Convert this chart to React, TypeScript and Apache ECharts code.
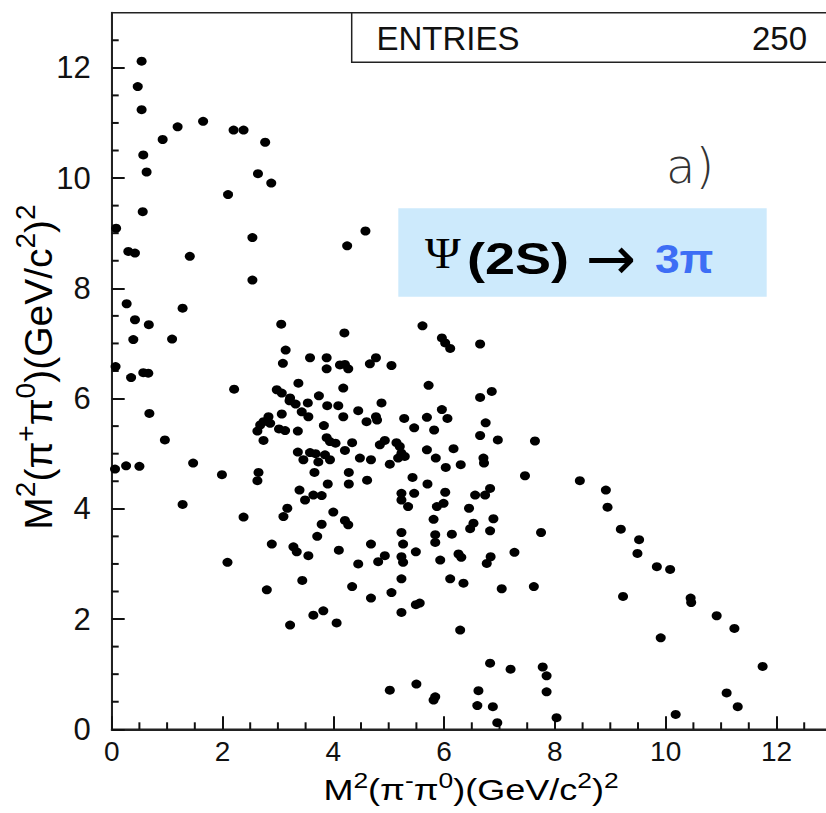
import React, { useEffect, useRef } from "react";
import * as echarts from "echarts";

// M^2(pi- pi0) , M^2(pi+ pi0) pairs in (GeV/c^2)^2
const upperBand: [number, number][] = [
  [0.54, 12.12], [0.47, 11.66], [0.54, 11.24], [1.19, 10.93], [1.65, 11.03], [0.92, 10.7],
  [2.2, 10.87], [2.38, 10.87], [2.77, 10.65], [0.57, 10.42], [0.63, 10.11], [2.64, 10.08],
  [2.88, 9.91], [2.1, 9.7], [0.56, 9.39], [0.08, 9.09], [2.54, 8.92], [0.3, 8.67],
  [0.42, 8.64], [1.41, 8.58], [2.54, 8.15], [0.27, 7.72], [0.42, 7.43], [0.67, 7.34],
  [0.39, 7.07], [1.28, 7.64], [1.09, 7.08], [0.07, 6.58], [0.35, 6.38], [0.57, 6.47],
  [0.66, 6.46], [2.21, 6.17], [4.25, 8.77], [4.58, 9.04], [0.68, 5.73], [0.96, 5.25],
  [0.06, 4.72], [0.26, 4.78], [0.5, 4.77], [1.47, 4.83], [1.99, 4.62], [1.28, 4.08],
  [2.38, 3.85], [2.09, 3.03],
];

const centralCluster: [number, number][] = [
  [3.06, 7.35], [3.14, 6.88], [3.09, 6.64], [3.58, 6.74], [3.88, 6.74], [3.88, 6.54],
  [4.12, 6.61], [4.21, 6.62], [4.27, 6.54], [4.2, 7.19], [4.66, 6.63], [4.77, 6.74],
  [5.05, 6.6], [5.61, 7.32], [3.37, 6.28], [3.74, 6.05], [2.98, 6.16], [3.07, 6.1],
  [3.22, 6.01], [4.18, 6.19], [5.96, 7.1], [6.02, 7.01], [6.11, 6.91], [6.65, 6.99],
  [5.72, 6.24], [6.65, 6.02], [6.86, 6.13], [2.65, 4.66], [2.63, 4.51], [2.83, 5.67],
  [2.86, 5.55], [2.74, 5.58], [2.68, 5.52], [3.07, 5.72], [2.63, 5.41], [2.74, 5.24],
  [3.02, 5.45], [3.13, 5.42], [3.36, 5.41], [3.83, 5.51], [3.88, 5.29], [3.21, 5.96],
  [3.32, 5.9], [3.54, 5.92], [3.43, 5.76], [3.55, 5.67], [3.89, 5.87], [4.09, 5.87],
  [4.18, 5.67], [4.45, 5.78], [4.6, 5.58], [4.77, 5.67], [4.87, 5.92], [4.79, 5.61],
  [3.36, 5.03], [3.46, 4.89], [3.58, 5.02], [3.68, 5.0], [3.73, 4.85], [3.85, 4.98],
  [3.66, 4.66], [3.9, 4.45], [3.39, 4.34], [3.49, 4.16], [3.64, 4.25], [3.79, 4.24],
  [3.94, 5.22], [4.04, 5.19], [4.34, 5.2], [4.21, 5.06], [4.84, 5.16], [4.93, 5.24],
  [5.14, 5.2], [5.2, 5.13], [5.23, 5.01], [5.29, 4.95], [5.17, 4.92], [5.69, 5.07],
  [6.17, 5.09], [3.94, 4.89], [4.48, 4.92], [4.68, 4.89], [5.02, 4.81], [5.85, 4.92],
  [6.03, 4.75], [6.3, 4.8], [6.71, 4.92], [6.72, 4.83], [4.28, 4.66], [4.28, 4.45],
  [4.61, 4.52], [5.43, 4.57], [5.7, 4.45], [7.46, 4.6], [5.46, 4.28], [5.23, 4.28],
  [5.23, 4.16], [6.02, 4.3], [6.56, 4.25], [6.74, 4.25], [6.83, 4.37], [5.28, 5.64],
  [5.46, 5.47], [5.69, 5.66], [5.96, 5.8], [6.06, 5.64], [5.82, 5.43], [6.75, 5.56],
  [6.65, 5.33], [6.97, 5.25], [7.64, 5.23],
];

const lowerCluster: [number, number][] = [
  [2.89, 3.36], [2.8, 2.53], [3.22, 1.89], [3.64, 2.07], [3.82, 2.15], [4.06, 1.93],
  [3.44, 2.7], [3.28, 3.31], [3.34, 3.22], [3.55, 3.15], [3.1, 3.86], [3.17, 4.01],
  [3.71, 3.5], [3.79, 3.72], [4.0, 3.94], [4.21, 3.79], [4.27, 3.71], [4.1, 3.25],
  [4.34, 2.59], [4.45, 3.0], [4.68, 2.38], [4.68, 3.36], [4.81, 3.04], [4.93, 3.15],
  [5.05, 2.48], [5.23, 2.12], [5.23, 2.73], [5.23, 3.57], [5.26, 3.36], [5.23, 3.13],
  [5.26, 3.03], [5.49, 2.26], [5.56, 2.29], [5.49, 3.22], [5.02, 0.71], [5.5, 0.82],
  [5.35, 4.04], [5.87, 4.04], [5.99, 4.1], [5.81, 3.81], [6.45, 4.01], [6.53, 3.74],
  [6.47, 3.64], [6.89, 3.82], [6.83, 3.6], [7.75, 3.57], [5.84, 3.53], [5.84, 3.39],
  [6.14, 3.54], [5.93, 3.07], [6.26, 3.18], [6.31, 3.12], [6.77, 3.01], [6.84, 3.13],
  [7.27, 3.21], [6.11, 2.73], [6.35, 2.65], [7.04, 2.55], [7.62, 2.59], [6.29, 1.8],
  [6.83, 1.2], [7.2, 1.09], [7.78, 1.13], [7.85, 0.97], [7.85, 0.68], [5.81, 0.53],
  [5.84, 0.59], [6.62, 0.7], [6.6, 0.43], [6.88, 0.41], [6.96, 0.12], [8.03, 0.21],
];

const rightBand: [number, number][] = [
  [8.45, 4.51], [8.92, 4.34], [8.95, 4.03], [9.19, 3.63], [9.52, 3.44], [9.49, 3.19],
  [9.84, 2.95], [10.08, 2.9], [9.23, 2.41], [10.45, 2.38], [10.46, 2.3], [10.92, 2.06],
  [11.24, 1.83], [9.91, 1.66], [11.75, 1.14], [11.1, 0.66], [11.3, 0.41], [10.18, 0.27],
];

// minor tick positions (GeV/c^2)^2; major ticks come from the axes (interval 2)
const xMinorTicks = [0.5, 1, 1.5, 2.5, 3, 3.5, 4.5, 5, 5.5, 6.5, 7, 7.5, 8.5, 9, 9.5, 10.5, 11, 11.5, 12.5, 13];
const yMinorTicks = [0.5, 1, 1.5, 2.5, 3, 3.5, 4.5, 5, 5.5, 6.5, 7, 7.5, 8.5, 9, 9.5, 10.5, 11, 11.5, 12.5];

const entriesLabel = "ENTRIES";
const entriesCount = "250";

const FONT = "'Liberation Sans', Arial, Helvetica, sans-serif";
const AX = "#222222";
const TICK = "#111111";
const MAJOR_LEN = 13;
const MINOR_LEN = 7;

function titleRich(size: number) {
  return {
    m: { fontSize: size, fontFamily: FONT, lineHeight: Math.round(size * 1.4), color: "#111" },
    s: {
      fontSize: Math.round(size * 0.72),
      fontFamily: FONT,
      lineHeight: Math.round(size * 0.72),
      verticalAlign: "top",
      color: "#111",
    },
  };
}

export default function App() {
  const ref = useRef<HTMLDivElement>(null);

  useEffect(() => {
    if (!ref.current) return;
    const chart = echarts.init(ref.current, undefined, { renderer: "svg" });
    const points = [...upperBand, ...centralCluster, ...lowerCluster, ...rightBand];

    const minorTickData: [number, number][] = [
      ...xMinorTicks.map((v) => [0, v] as [number, number]),
      ...yMinorTicks.map((v) => [1, v] as [number, number]),
    ];

    const gridLeft = 111.7;
    const gridTop = 12.7;
    const gridBottom = 813 - 729.3;
    const xMax = 13.5;
    const yMax = 13;
    const pxPerX = 55.4;
    const gridRight = 826 - (gridLeft + xMax * pxPerX);

    chart.setOption({
      animation: false,
      grid: {
        left: gridLeft,
        right: gridRight,
        top: gridTop,
        bottom: gridBottom,
        outerBoundsMode: "none",
        show: true,
        borderColor: AX,
        borderWidth: 1.5,
      },
      xAxis: {
        type: "value",
        min: 0,
        max: xMax,
        interval: 2,
        axisLine: { show: true, onZero: false, lineStyle: { color: AX, width: 2 } },
        axisTick: { show: true, inside: true, length: MAJOR_LEN, lineStyle: { color: TICK, width: 2 } },
        splitLine: { show: false },
        axisLabel: {
          fontSize: 28,
          fontFamily: FONT,
          color: "#111",
          margin: 8,
          showMaxLabel: false,
        },
      },
      yAxis: {
        type: "value",
        min: 0,
        max: yMax,
        interval: 2,
        axisLine: { show: true, onZero: false, lineStyle: { color: AX, width: 2 } },
        axisTick: { show: true, inside: true, length: MAJOR_LEN, lineStyle: { color: TICK, width: 2 } },
        splitLine: { show: false },
        axisLabel: {
          fontSize: 31,
          fontFamily: FONT,
          color: "#111",
          margin: 21,
          showMaxLabel: false,
        },
      },
      series: [
        {
          type: "custom",
          name: "minor ticks",
          data: minorTickData,
          clip: false,
          renderItem: (params: any, api: any) => {
            const dir = api.value(0);
            const v = api.value(1);
            if (dir === 0) {
              const p = api.coord([v, 0]);
              return {
                type: "line",
                shape: { x1: p[0], y1: p[1], x2: p[0], y2: p[1] - MINOR_LEN },
                style: { stroke: TICK, lineWidth: 2 },
              };
            }
            const p = api.coord([0, v]);
            return {
              type: "line",
              shape: { x1: p[0], y1: p[1], x2: p[0] + MINOR_LEN, y2: p[1] },
              style: { stroke: TICK, lineWidth: 2 },
            };
          },
        },
        {
          type: "scatter",
          data: points,
          symbol: "circle",
          symbolSize: [10, 9],
          itemStyle: { color: "#000", opacity: 1 },
        },
      ],
      graphic: [
        {
          type: "rect",
          shape: { x: 351.7, y: 12.7, width: 560, height: 49.6 },
          style: { fill: "#fff", stroke: AX, lineWidth: 1.5 },
          z: 10,
        },
        {
          type: "text",
          x: 376.5,
          y: 38,
          style: {
            text: entriesLabel,
            fontSize: 33,
            fontFamily: FONT,
            fill: "#111",
            align: "left",
            verticalAlign: "middle",
          },
          z: 11,
        },
        {
          type: "text",
          x: 807,
          y: 38,
          style: {
            text: entriesCount,
            fontSize: 33,
            fontFamily: FONT,
            fill: "#111",
            align: "right",
            verticalAlign: "middle",
          },
          z: 11,
        },
        {
          type: "text",
          x: 666,
          y: 166,
          style: {
            text: "a)",
            fontSize: 48,
            fontFamily: "'DejaVu Sans', sans-serif",
            fontWeight: 200,
            fill: "#333",
            align: "left",
            verticalAlign: "middle",
          },
          z: 11,
        },
        {
          type: "rect",
          shape: { x: 398.3, y: 208.3, width: 368.4, height: 88.4 },
          style: { fill: "#cdeafc" },
          z: 10,
        },
        {
          type: "text",
          x: 425,
          y: 253,
          scaleX: 1.1,
          style: {
            text: "Ψ",
            fontSize: 44,
            fontFamily: "'Liberation Serif', 'DejaVu Serif', serif",
            fill: "#000",
            align: "left",
            verticalAlign: "middle",
          },
          z: 11,
        },
        {
          type: "text",
          x: 467,
          y: 259,
          scaleX: 1.2,
          style: {
            text: "(2S)",
            fontSize: 45,
            fontWeight: "bold",
            fontFamily: FONT,
            fill: "#000",
            align: "left",
            verticalAlign: "middle",
          },
          z: 11,
        },
        {
          type: "text",
          x: 586,
          y: 258,
          style: {
            text: "→",
            fontSize: 60,
            fontFamily: "'DejaVu Sans', sans-serif",
            fill: "#000",
            align: "left",
            verticalAlign: "middle",
          },
          z: 11,
        },
        {
          type: "text",
          x: 655,
          y: 259,
          scaleX: 1.08,
          style: {
            text: "3π",
            fontSize: 41,
            fontWeight: "bold",
            fontFamily: FONT,
            fill: "#3d6ef5",
            align: "left",
            verticalAlign: "middle",
          },
          z: 11,
        },
        {
          type: "text",
          x: 471,
          y: 811,
          scaleX: 1.2,
          style: {
            text: "{m|M}{s|2}{m|(π}{s|-}{m|π}{s|0}{m|)(GeV/c}{s|2}{m|)}{s|2}",
            align: "center",
            verticalAlign: "bottom",
            rich: titleRich(30),
          },
          z: 11,
        },
        {
          type: "text",
          x: 66,
          y: 367,
          rotation: Math.PI / 2,
          style: {
            text: "{m|M}{s|2}{m|(π}{s|+}{m|π}{s|0}{m|)(GeV/c}{s|2}{m|)}{s|2}",
            align: "center",
            verticalAlign: "bottom",
            rich: titleRich(39),
          },
          z: 11,
        },
      ],
    });

    return () => chart.dispose();
  }, []);

  return (
    <div
      ref={ref}
      style={{ position: "absolute", left: 0, top: 0, width: 826, height: 813, background: "#fff" }}
    />
  );
}
